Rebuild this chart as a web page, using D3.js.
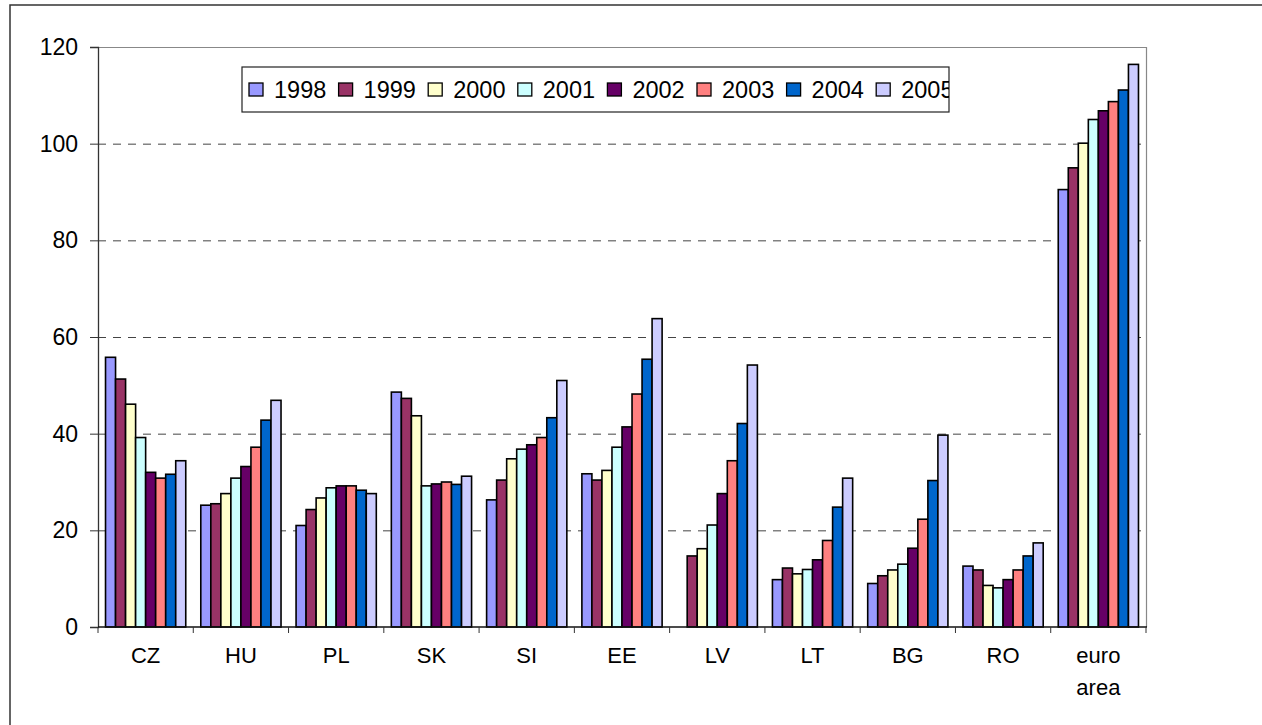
<!DOCTYPE html>
<html>
<head>
<meta charset="utf-8">
<script src="https://cdn.jsdelivr.net/npm/d3@7"></script>
<style>
  html, body { margin: 0; padding: 0; background: #fff; }
  svg { display: block; font-family: "Liberation Sans", Arial, sans-serif; }
</style>
</head>
<body>
<div id="chart"></div>
<script>
// --- DATEN ---
const categories = ["CZ", "HU", "PL", "SK", "SI", "EE", "LV", "LT", "BG", "RO", "euro area"];
const years = ["1998", "1999", "2000", "2001", "2002", "2003", "2004", "2005"];
const yTicks = [0, 20, 40, 60, 80, 100, 120];

// one array per country, values 1998..2005 (null = no data)
const valCZ = [55.8, 51.3, 46.1, 39.2, 32.0, 30.8, 31.6, 34.4];
const valHU = [25.2, 25.5, 27.6, 30.8, 33.2, 37.2, 42.8, 46.9];
const valPL = [21.0, 24.3, 26.7, 28.8, 29.2, 29.2, 28.3, 27.6];
const valSK = [48.6, 47.3, 43.7, 29.2, 29.6, 30.0, 29.5, 31.2];
const valSI = [26.3, 30.4, 34.8, 36.8, 37.7, 39.2, 43.3, 51.0];
const valEE = [31.7, 30.4, 32.4, 37.2, 41.4, 48.2, 55.4, 63.8];
const valLV = [null, 14.7, 16.2, 21.1, 27.6, 34.4, 42.1, 54.2];
const valLT = [9.8, 12.2, 11.0, 11.9, 13.9, 17.9, 24.8, 30.8];
const valBG = [9.0, 10.6, 11.8, 13.0, 16.3, 22.3, 30.3, 39.7];
const valRO = [12.6, 11.8, 8.6, 8.1, 9.8, 11.8, 14.7, 17.4];
const valEA = [90.5, 95.0, 100.1, 105.0, 106.8, 108.7, 111.1, 116.4];

const seriesByCountry = [valCZ, valHU, valPL, valSK, valSI, valEE, valLV, valLT, valBG, valRO, valEA];

// klassische Excel-Palette
const colors = ["#9999FF", "#993366", "#FFFFCC", "#CCFFFF", "#660066", "#FF8080", "#0066CC", "#CCCCFF"];

// --- KONFIGURATION ---
const width = 1262, height = 725;
const plot = { left: 98, right: 1146, top: 47, bottom: 627 };

const svg = d3.select("#chart").append("svg")
  .attr("width", width)
  .attr("height", height);

// äußerer Rahmen (läuft rechts/unten aus dem Bild)
svg.append("rect")
  .attr("x", 10).attr("y", 5)
  .attr("width", 1400).attr("height", 900)
  .attr("fill", "none")
  .attr("stroke", "#333")
  .attr("stroke-width", 1.5);

const x0 = d3.scaleBand()
  .domain(categories)
  .range([plot.left, plot.right])
  .padding(0);

const x1 = d3.scaleBand()
  .domain(years)
  .range([0, x0.bandwidth()])
  .paddingInner(0)
  .paddingOuter(0.75);

const y = d3.scaleLinear()
  .domain([0, 120])
  .range([plot.bottom, plot.top]);

const color = d3.scaleOrdinal().domain(years).range(colors);

// Gitternetzlinien
svg.append("g")
  .selectAll("line")
  .data(yTicks.filter(t => t > 0 && t < 120))
  .join("line")
  .attr("x1", plot.left).attr("x2", plot.right)
  .attr("y1", d => y(d) + 0.5).attr("y2", d => y(d) + 0.5)
  .attr("stroke", "#444")
  .attr("stroke-width", 1)
  .attr("stroke-dasharray", "8,7");

// Rahmen der Zeichenfläche oben/rechts
svg.append("path")
  .attr("d", `M${plot.left},${y(120) + 0.5}H${plot.right + 0.5}V${plot.bottom}`)
  .attr("fill", "none")
  .attr("stroke", "#888")
  .attr("stroke-width", 1.2);

// Balken
const groups = svg.append("g")
  .selectAll("g")
  .data(categories)
  .join("g")
  .attr("transform", d => `translate(${x0(d)},0)`);

groups.selectAll("rect")
  .data((c, i) => years.map((yr, j) => ({ year: yr, value: seriesByCountry[i][j] })).filter(d => d.value != null))
  .join("rect")
  .attr("x", d => x1(d.year))
  .attr("y", d => y(d.value))
  .attr("width", x1.bandwidth())
  .attr("height", d => y(0) - y(d.value))
  .attr("fill", d => color(d.year))
  .attr("stroke", "#000")
  .attr("stroke-width", 1.6);

// Y-Achse
const yAxis = svg.append("g")
  .attr("transform", `translate(${plot.left},0)`)
  .call(d3.axisLeft(y).tickValues(yTicks).tickSize(8).tickPadding(12).tickFormat(d3.format("d")));
yAxis.select(".domain").attr("stroke", "#333").attr("stroke-width", 1.3);
yAxis.selectAll(".tick line").attr("stroke", "#333");
yAxis.selectAll(".tick text")
  .attr("fill", "#000")
  .style("font-size", "23px")
  .style("font-family", "'Liberation Sans', Arial, sans-serif");

// X-Achse
const xAxisG = svg.append("g")
  .attr("transform", `translate(0,${plot.bottom})`);
xAxisG.append("line")
  .attr("x1", plot.left).attr("x2", plot.right + 1)
  .attr("stroke", "#111").attr("stroke-width", 1.5);
xAxisG.selectAll("line.tk")
  .data(d3.range(categories.length + 1))
  .join("line")
  .attr("class", "tk")
  .attr("x1", i => plot.left + i * x0.step())
  .attr("x2", i => plot.left + i * x0.step())
  .attr("y1", 0).attr("y2", 6)
  .attr("stroke", "#333");

const xLabels = xAxisG.selectAll("text")
  .data(categories)
  .join("text")
  .attr("x", d => x0(d) + x0.bandwidth() / 2)
  .attr("y", 36)
  .attr("text-anchor", "middle")
  .style("font-size", "22px");
xLabels.each(function(d) {
  const t = d3.select(this);
  d.split(" ").forEach((w, k) => {
    t.append("tspan")
      .attr("x", x0(d) + x0.bandwidth() / 2)
      .attr("dy", k === 0 ? 0 : 32)
      .text(w);
  });
});

// Legende (rechts abgeschnitten wie im Original)
const legend = svg.append("g");
const legBox = { x: 242, y: 67, w: 707, h: 45 };
legend.append("clipPath").attr("id", "legclip")
  .append("rect").attr("x", legBox.x).attr("y", legBox.y).attr("width", legBox.w).attr("height", legBox.h);
legend.append("rect")
  .attr("x", legBox.x).attr("y", legBox.y)
  .attr("width", legBox.w).attr("height", legBox.h)
  .attr("fill", "#fff")
  .attr("stroke", "#222")
  .attr("stroke-width", 1.2);

const legItems = legend.append("g")
  .attr("clip-path", "url(#legclip)")
  .selectAll("g")
  .data(years)
  .join("g")
  .attr("transform", (d, i) => `translate(${249 + i * 89.6},0)`);

legItems.append("rect")
  .attr("x", 0).attr("y", 83)
  .attr("width", 14).attr("height", 13)
  .attr("fill", d => color(d))
  .attr("stroke", "#000")
  .attr("stroke-width", 1.3);

legItems.append("text")
  .attr("x", 25).attr("y", 97.5)
  .style("font-size", "23.5px")
  .text(d => d);
</script>
</body>
</html>
